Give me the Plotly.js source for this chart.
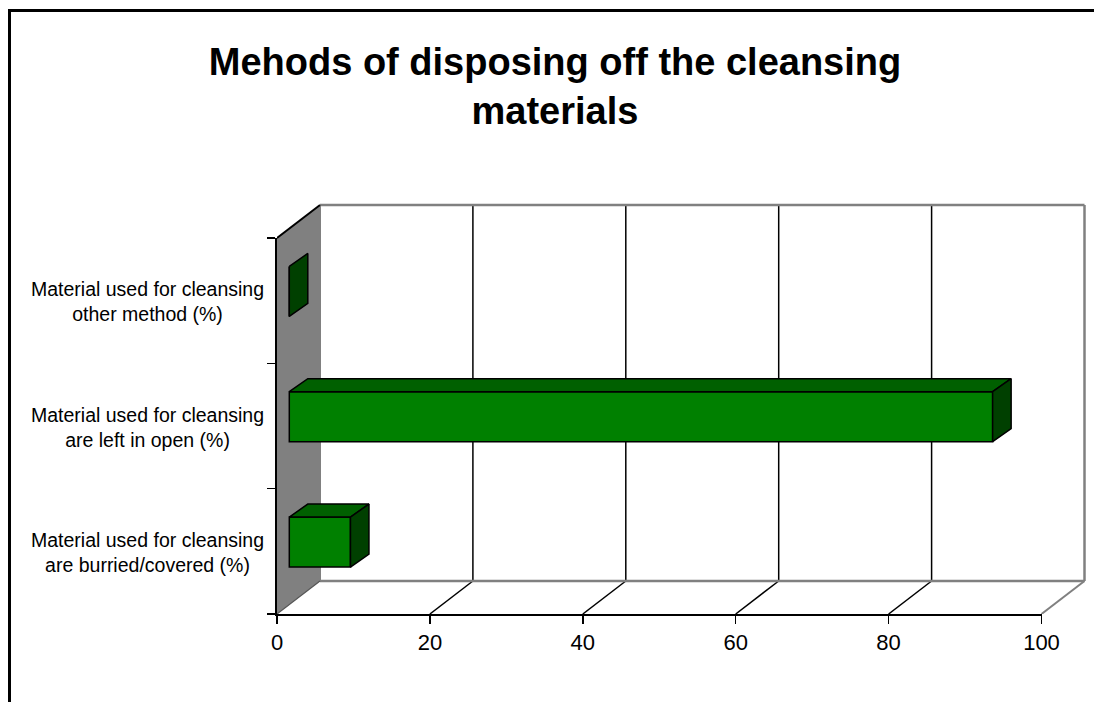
<!DOCTYPE html>
<html><head><meta charset="utf-8">
<script src="https://cdn.plot.ly/plotly-3.0.1.min.js"></script>
<style>
html,body{margin:0;padding:0;background:#fff;overflow:hidden}
#frame{position:absolute;left:8px;top:9px;width:1086px;height:693px;border-left:3px solid #000;border-top:3px solid #000;box-sizing:border-box}
#chart{position:absolute;left:0;top:0;width:1094px;height:702px}
</style></head><body>
<div id="frame"></div><div id="chart"></div>
<script>
const titleText = 'Mehods of disposing off the cleansing<br>materials';
const categories = ['Material used for cleansing<br>are burried/covered (%)','Material used for cleansing<br>are left in open (%)','Material used for cleansing<br>other method (%)'];
const values = [8, 92, 0];
const xTicks = [0,20,40,60,80,100];

const pxX = 764.5/100, pxY = 376/3;
const wallDx = 43/pxX, wallDy = 33/pxY;
const barDx = 18.5/pxX, barDy = 13/pxY;
const barBase = 12.3/pxX, barOff = 0.574, barW = 50/pxY;
const xMax = (1090-277)/pxX, yMax = (614-200)/pxY;
const W=1094,H=702,L=277,R=4,T=200,B=88;
const BLACK='#000', GREY='#808080';

const shapes=[];
const ln=(x0,y0,x1,y1,c,w)=>shapes.push({type:'line',layer:'below',xref:'x',yref:'y',x0,y0,x1,y1,line:{color:c,width:w}});
// side wall
shapes.push({type:'path',layer:'below',xref:'x',yref:'y',
  path:`M0,0 L${wallDx},${wallDy} L${wallDx},${3+wallDy} L0,3 Z`,fillcolor:GREY,line:{width:0}});
// back gridlines and floor lines
xTicks.slice(1,-1).forEach(t=>{
  ln(t+wallDx,wallDy,t+wallDx,3+wallDy,BLACK,1.5);
  ln(t,0,t+wallDx,wallDy,BLACK,1.5);
});
ln(wallDx,wallDy,wallDx,3+wallDy,GREY,2);
ln(wallDx,3+wallDy,100+wallDx,3+wallDy,GREY,2.5);
ln(100+wallDx,wallDy,100+wallDx,3+wallDy,GREY,2.5);
ln(wallDx,wallDy,100+wallDx,wallDy,GREY,2.5);
ln(100,0,100+wallDx,wallDy,GREY,2);
ln(0,0,wallDx,wallDy,'#555',1.2);
ln(0,3,wallDx,3+wallDy,BLACK,2);

const pos = values.map((_,i)=>i+barOff);
const traces=[{
  type:'bar',orientation:'h',x:values,y:pos,base:values.map(()=>barBase),width:barW,
  marker:{color:'#008000',line:{color:BLACK,width:1.5}},hoverinfo:'skip',showlegend:false,xaxis:'x',yaxis:'y'
}];
const face=(xs,ys,c)=>traces.push({type:'scatter',mode:'lines',x:xs,y:ys,fill:'toself',fillcolor:c,
  line:{color:BLACK,width:1.5},hoverinfo:'skip',showlegend:false,xaxis:'x',yaxis:'y'});
values.forEach((v,i)=>{
  const top=pos[i]+barW/2, bot=pos[i]-barW/2, a=barBase, b=barBase+v;
  if(v>0) face([a,b,b+barDx,a+barDx,a],[top,top,top+barDy,top+barDy,top],'#006000');
  face([b,b+barDx,b+barDx,b,b],[top,top+barDy,bot+barDy,bot,top],'#004000');
});
// empty trace so that the front axes are drawn
traces.push({type:'scatter',mode:'lines',x:[],y:[],xaxis:'x2',yaxis:'y2',hoverinfo:'skip',showlegend:false});

const font={family:'"Liberation Sans",Arial,sans-serif',color:BLACK};
const layout={
  width:W,height:H,margin:{l:L,r:R,t:T,b:B,pad:0},
  paper_bgcolor:'rgba(0,0,0,0)',plot_bgcolor:'rgba(0,0,0,0)',
  showlegend:false,hovermode:false,bargap:0,
  title:{text:titleText,x:555/W,xanchor:'center',xref:'container',yref:'container',y:1-75/H,yanchor:'top',
    font:{...font,size:38,weight:700}},
  xaxis:{visible:false,range:[0,xMax],domain:[0,1],fixedrange:true},
  yaxis:{visible:false,range:[0,yMax],domain:[0,1],fixedrange:true},
  xaxis2:{range:[0,100],domain:[0,100/xMax],anchor:'y2',side:'bottom',tickmode:'array',tickvals:xTicks,ticktext:xTicks.map(String),
    showgrid:false,zeroline:false,showline:true,linecolor:BLACK,linewidth:2,ticks:'outside',ticklen:8,tickwidth:1.5,tickcolor:BLACK,
    tickfont:{...font,size:22},fixedrange:true},
  yaxis2:{range:[0,3],domain:[0,3/yMax],anchor:'x2',side:'left',tickmode:'array',tickvals:[0,1,2,3],ticktext:['','','',''],
    showgrid:false,zeroline:false,showline:true,linecolor:BLACK,linewidth:2,ticks:'outside',ticklen:8,tickwidth:1.5,tickcolor:BLACK,fixedrange:true},
  shapes,
  annotations:categories.map((c,i)=>({text:c,xref:'x',yref:'y',x:0,y:i+0.5,xanchor:'right',yanchor:'middle',xshift:-11,yshift:-1,
    align:'center',showarrow:false,font:{...font,size:19.5}}))
};
Plotly.newPlot('chart',traces,layout,{displayModeBar:false,staticPlot:true});
</script></body></html>
